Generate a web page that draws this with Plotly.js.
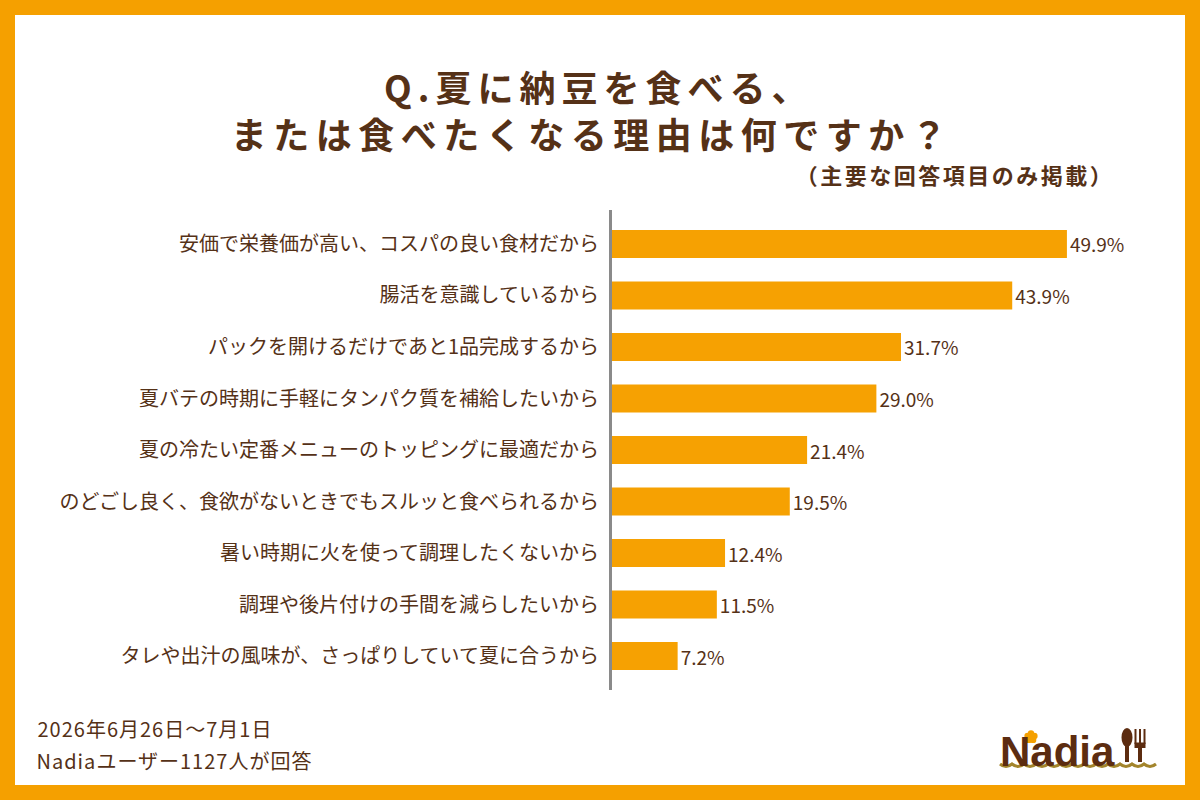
<!DOCTYPE html>
<html>
<head>
<meta charset="utf-8">
<script src="https://cdn.plot.ly/plotly-3.0.1.min.js"></script>
<style>
  html, body { margin: 0; padding: 0; background: #ffffff; }
  #chart { width: 1200px; height: 800px; }
  /* spaced-out heading lines and footnotes */
  #chart g.annotation[data-index="0"] text { letter-spacing: 6px; }
  #chart g.annotation[data-index="1"] text { letter-spacing: 6.5px; }
  #chart g.annotation[data-index="2"] text { letter-spacing: 2.5px; }
  #chart g.annotation[data-index="3"] text,
  #chart g.annotation[data-index="4"] text { letter-spacing: 1px; }
</style>
</head>
<body>
<div id="chart"></div>
<script>
// Survey answers, top to bottom
const reasons = [
  "安価で栄養価が高い、コスパの良い食材だから",
  "腸活を意識しているから",
  "パックを開けるだけであと1品完成するから",
  "夏バテの時期に手軽にタンパク質を補給したいから",
  "夏の冷たい定番メニューのトッピングに最適だから",
  "のどごし良く、食欲がないときでもスルッと食べられるから",
  "暑い時期に火を使って調理したくないから",
  "調理や後片付けの手間を減らしたいから",
  "タレや出汁の風味が、さっぱりしていて夏に合うから"
];
const shares = [49.9, 43.9, 31.7, 29.0, 21.4, 19.5, 12.4, 11.5, 7.2];

const titleLine1 = "Q.夏に納豆を食べる、";
const titleLine2 = "または食べたくなる理由は何ですか？";
const subtitle = "（主要な回答項目のみ掲載）";
const periodNote = "2026年6月26日～7月1日";
const respondentNote = "Nadiaユーザー1127人が回答";
const brandName = "Nadia";

const ORANGE = "#f5a000";
const BROWN = "#553117";
const FONT = "'Noto Sans CJK JP', 'Noto Sans', sans-serif";

// Plot area in pixels, used to place page decorations in paper units
const W = 1200, H = 800;
const M = { l: 612, r: 41, t: 210, b: 110 };
const PW = W - M.l - M.r, PH = H - M.t - M.b;
const px = x => (x - M.l) / PW;
const py = y => (H - M.b - y) / PH;

const shapes = [];
// orange frame
const frame = [[0, 0, W, 15], [0, H - 15, W, H], [0, 0, 15, H], [W - 15, 0, W, H]];
frame.forEach(([x0, y0, x1, y1]) => shapes.push({
  type: "rect", xref: "paper", yref: "paper",
  x0: px(x0), x1: px(x1), y0: py(y1), y1: py(y0),
  fillcolor: ORANGE, line: { width: 0 }, layer: "above"
}));

// logo: spoon and fork
const LOGO_BROWN = "#5c2c10";
shapes.push({ type: "circle", xref: "paper", yref: "paper",
  x0: px(1121.5), x1: px(1132.5), y0: py(747), y1: py(728),
  fillcolor: LOGO_BROWN, line: { width: 0 } });
shapes.push({ type: "line", xref: "paper", yref: "paper",
  x0: px(1127), x1: px(1127), y0: py(744), y1: py(762),
  line: { color: LOGO_BROWN, width: 4 } });
[1135.5, 1140, 1144.5].forEach(x => shapes.push({ type: "line", xref: "paper", yref: "paper",
  x0: px(x), x1: px(x), y0: py(729), y1: py(744),
  line: { color: LOGO_BROWN, width: 2 } }));
shapes.push({ type: "rect", xref: "paper", yref: "paper",
  x0: px(1134.5), x1: px(1145.5), y0: py(748), y1: py(742.5),
  fillcolor: LOGO_BROWN, line: { width: 0 } });
shapes.push({ type: "line", xref: "paper", yref: "paper",
  x0: px(1140), x1: px(1140), y0: py(746), y1: py(762),
  line: { color: LOGO_BROWN, width: 4 } });

// logo: little flower over the N
const fcx = 1031, fcy = 737;
for (let k = 0; k < 5; k++) {
  const a = -Math.PI / 2 + k * 2 * Math.PI / 5;
  const cx = fcx + 3.6 * Math.cos(a), cy = fcy + 3.6 * Math.sin(a);
  shapes.push({ type: "circle", xref: "paper", yref: "paper",
    x0: px(cx - 3.2), x1: px(cx + 3.2), y0: py(cy + 3.2), y1: py(cy - 3.2),
    fillcolor: ORANGE, line: { width: 0 } });
}
shapes.push({ type: "circle", xref: "paper", yref: "paper",
  x0: px(fcx - 2), x1: px(fcx + 2), y0: py(fcy + 2), y1: py(fcy - 2),
  fillcolor: ORANGE, line: { width: 0 } });

// logo: wavy underline
let wave = "M " + px(1000) + "," + py(764);
for (let x = 1000; x < 1148; x += 12) {
  wave += " Q " + px(x + 6) + "," + py(769) + " " + px(x + 12) + "," + py(764);
}
shapes.push({ type: "path", xref: "paper", yref: "paper", path: wave,
  line: { color: "#a3852c", width: 3 } });

const annotations = [
  { text: titleLine1, x: px(598), y: py(86), xanchor: "center", yanchor: "middle",
    font: { family: FONT, size: 36, color: BROWN, weight: 700 } },
  { text: titleLine2, x: px(592), y: py(133), xanchor: "center", yanchor: "middle",
    font: { family: FONT, size: 36, color: BROWN, weight: 700 } },
  { text: subtitle, x: px(955), y: py(174), xanchor: "center", yanchor: "middle",
    font: { family: FONT, size: 22, color: BROWN, weight: 700 } },
  { text: periodNote, x: px(43), y: py(728), xanchor: "left", yanchor: "middle",
    font: { family: FONT, size: 20, color: BROWN } },
  { text: respondentNote, x: px(43), y: py(760), xanchor: "left", yanchor: "middle",
    font: { family: FONT, size: 20, color: BROWN } },
  { text: brandName, x: px(998), y: py(751), xanchor: "left", yanchor: "middle",
    font: { family: "'Liberation Sans', Arial, sans-serif", size: 42, color: LOGO_BROWN, weight: 700 } }
].map(a => Object.assign({ xref: "paper", yref: "paper", showarrow: false }, a));

const trace = {
  type: "bar",
  orientation: "h",
  x: shares,
  y: reasons,
  marker: { color: "#f6a102", line: { width: 0 } },
  text: shares.map(v => v.toFixed(1) + "%"),
  textposition: "outside",
  textfont: { family: FONT, size: 19, color: BROWN },
  cliponaxis: false,
  hoverinfo: "skip"
};

const layout = {
  width: W, height: H,
  margin: M,
  paper_bgcolor: "#ffffff",
  plot_bgcolor: "#ffffff",
  showlegend: false,
  bargap: 0.46,
  xaxis: { range: [0, 60], visible: false, fixedrange: true },
  yaxis: {
    type: "category",
    categoryorder: "array",
    categoryarray: reasons,
    range: [8.66, -0.66],
    showline: true, linecolor: "#8a8a8a", linewidth: 3,
    showgrid: false, zeroline: false, ticks: "",
    ticklabelstandoff: 6,
    tickfont: { family: FONT, size: 20, color: BROWN },
    fixedrange: true
  },
  shapes: shapes,
  annotations: annotations,
  font: { family: FONT }
};

Plotly.newPlot("chart", [trace], layout, { staticPlot: true, displayModeBar: false });
</script>
</body>
</html>
